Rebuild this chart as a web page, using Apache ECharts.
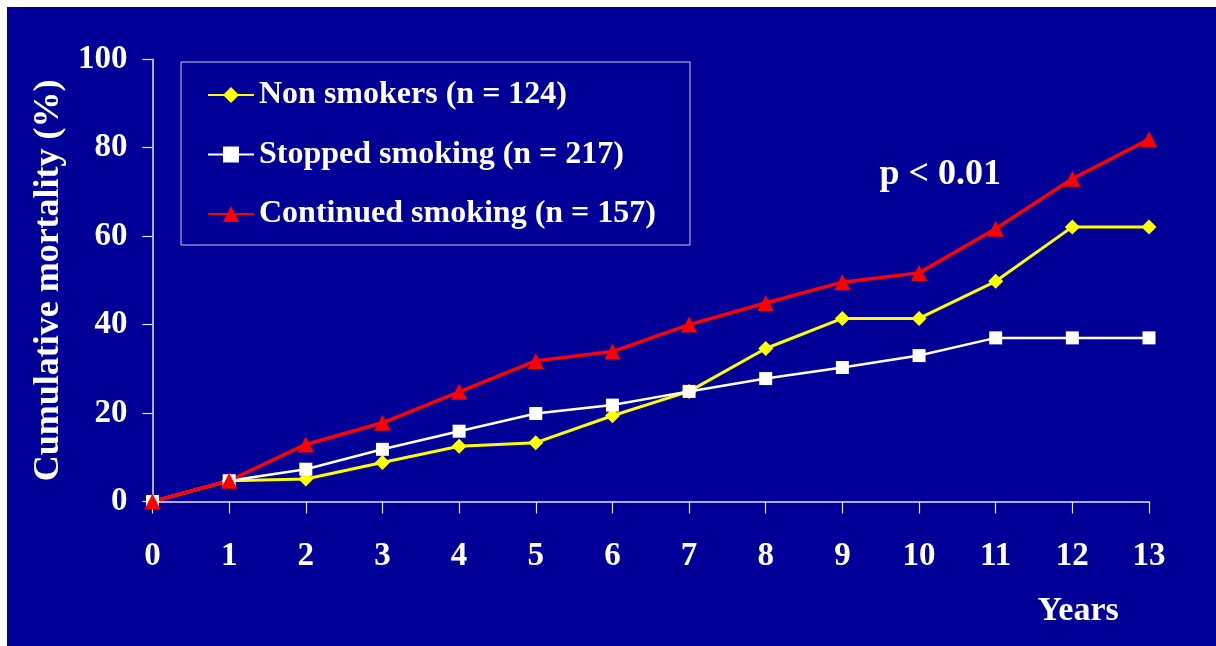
<!DOCTYPE html>
<html>
<head>
<meta charset="utf-8">
<title>Cumulative mortality</title>
<script src="https://cdn.jsdelivr.net/npm/echarts@6/dist/echarts.min.js"></script>
<style>
    html, body { margin: 0; padding: 0; background: #ffffff; }
    #chart { position: absolute; left: 7px; top: 7px; width: 1209px; height: 639px; }
</style>
</head>
<body>
<div id="chart"></div>
<script>
var years = ['0', '1', '2', '3', '4', '5', '6', '7', '8', '9', '10', '11', '12', '13'];
var nonSmokers = [0, 4.7, 5.1, 8.8, 12.5, 13.3, 19.4, 24.9, 34.6, 41.4, 41.4, 49.8, 62.1, 62.1];
var stoppedSmoking = [0, 4.7, 7.3, 11.8, 15.9, 19.9, 21.8, 24.9, 27.8, 30.3, 33.0, 37.0, 37.0, 37.0];
var continuedSmoking = [0, 4.7, 12.9, 17.8, 24.8, 31.8, 33.9, 40.0, 44.9, 49.6, 51.7, 61.7, 73.0, 81.9];
var seriesNames = ['Non smokers (n = 124)', 'Stopped smoking (n = 217)', 'Continued smoking (n = 157)'];
var yTicks = [0, 20, 40, 60, 80, 100];

var FONT = "'Liberation Serif', 'Times New Roman', serif";

function makeLineOption() {
    var option = {
        backgroundColor: '#000099',
        animation: false,
        grid: {
            left: 145.5,
            top: 52.3,
            right: 67,
            bottom: 144.5
        },
        legend: {
            orient: 'vertical',
            left: 174,
            top: 55,
            padding: [13, 34, 11, 26],
            itemGap: 19.5,
            itemWidth: 46,
            itemHeight: 20,
            borderColor: '#c8c8e8',
            borderWidth: 1,
            textStyle: {
                color: '#ffffff',
                fontFamily: FONT,
                fontWeight: 'bold',
                fontSize: 32,
                lineHeight: 40
            },
            data: seriesNames
        },
        xAxis: {
            type: 'category',
            boundaryGap: false,
            data: years,
            axisLine: { lineStyle: { color: '#e6e6ff', width: 1.5 } },
            axisTick: { alignWithLabel: true, length: 12, lineStyle: { color: '#e6e6ff', width: 1.2 } },
            axisLabel: {
                color: '#ffffff',
                fontFamily: FONT,
                fontWeight: 'bold',
                fontSize: 33,
                margin: 38
            },
            splitLine: { show: false }
        },
        yAxis: {
            type: 'value',
            min: yTicks[0],
            max: yTicks[yTicks.length - 1],
            interval: 20,
            name: 'Cumulative mortality (%)',
            nameLocation: 'middle',
            nameGap: 81,
            nameTextStyle: {
                color: '#ffffff',
                fontFamily: FONT,
                fontWeight: 'bold',
                fontSize: 36
            },
            axisLine: { show: true, lineStyle: { color: '#e6e6ff', width: 1.5 } },
            axisTick: { show: true, length: 10, lineStyle: { color: '#e6e6ff', width: 1.2 } },
            axisLabel: {
                color: '#ffffff',
                fontFamily: FONT,
                fontWeight: 'bold',
                fontSize: 33,
                margin: 25
            },
            splitLine: { show: false }
        },
        graphic: [{
            type: 'text',
            left: 934.5 - 62,
            top: 169 - 19,
            style: {
                text: 'p < 0.01',
                fill: '#ffffff',
                font: 'bold 36px ' + FONT
            }
        }, {
            type: 'text',
            left: 1071.5 - 41,
            top: 604.5 - 17,
            style: {
                text: 'Years',
                fill: '#ffffff',
                font: 'bold 34px ' + FONT
            }
        }],
        series: [{
            name: seriesNames[0],
            type: 'line',
            data: nonSmokers,
            symbol: 'diamond',
            symbolSize: 15,
            lineStyle: { color: '#ffff00', width: 3 },
            itemStyle: { color: '#ffff00' }
        }, {
            name: seriesNames[1],
            type: 'line',
            data: stoppedSmoking,
            symbol: 'rect',
            symbolSize: 13,
            lineStyle: { color: '#ffffff', width: 2.5 },
            itemStyle: { color: '#ffffff' }
        }, {
            name: seriesNames[2],
            type: 'line',
            data: continuedSmoking,
            symbol: 'triangle',
            symbolSize: 16,
            lineStyle: { color: '#ff0000', width: 3.5 },
            itemStyle: { color: '#ff0000' }
        }]
    };
    return option;
}

function setChart(id, option) {
    var myChart = echarts.init(document.getElementById(id));
    myChart.setOption(option);
}

setChart('chart', makeLineOption());
</script>
</body>
</html>
